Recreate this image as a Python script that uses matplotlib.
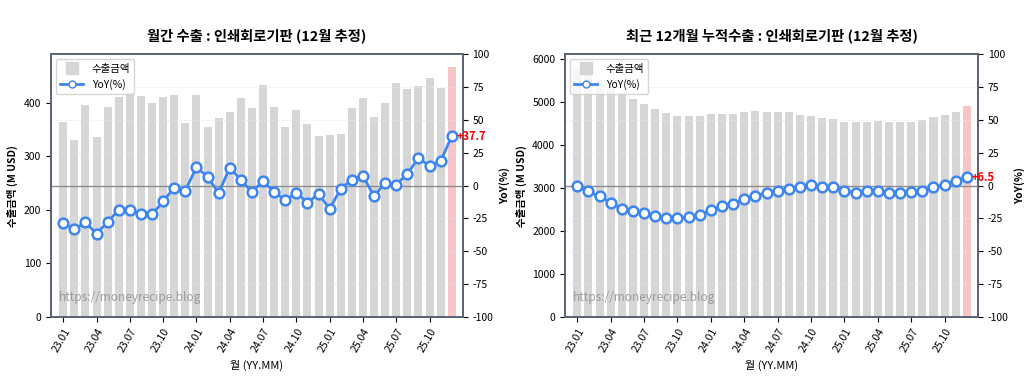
import numpy as np
import matplotlib
matplotlib.use('Agg')
import matplotlib.pyplot as plt
from matplotlib.lines import Line2D

plt.rcParams['font.family'] = ['Noto Sans CJK KR', 'DejaVu Sans']
plt.rcParams['axes.unicode_minus'] = False

# 월 라벨 (23.01 ~ 25.12)
months = [f'{y}.{m:02d}' for y in (23, 24, 25) for m in range(1, 13)]

# 월간 수출금액 (M USD) / YoY(%)
monthly_export = [363, 330, 396, 336, 392, 410, 419, 413, 399, 411, 414, 362,
                  414, 354, 372, 382, 409, 390, 432, 391, 354, 386, 360, 338,
                  339, 342, 390, 409, 373, 399, 437, 425, 430, 446, 427, 467]
monthly_yoy = [-28.5, -33.3, -28.0, -36.6, -27.8, -18.4, -18.9, -21.4, -22.0, -12.1, -1.5, -3.8,
               13.9, 6.8, -5.8, 13.6, 4.3, -4.8, 3.3, -4.8, -11.1, -5.3, -13.1, -6.3,
               -17.7, -2.5, 4.5, 7.6, -8.3, 2.3, 0.8, 8.9, 21.0, 14.9, 18.5, 37.7]

# 최근 12개월 누적수출 (M USD) / YoY(%)
rolling_export = [5820, 5680, 5510, 5350, 5200, 5065, 4963, 4847, 4747, 4678, 4678, 4662,
                  4717, 4731, 4717, 4770, 4786, 4755, 4770, 4755, 4701, 4678, 4624, 4601,
                  4531, 4531, 4539, 4554, 4523, 4539, 4539, 4570, 4647, 4693, 4770, 4903]
rolling_yoy = [0.0, -4.5, -8.3, -13.1, -17.7, -19.5, -20.8, -22.8, -24.4, -24.9, -23.7, -22.2,
               -18.9, -15.9, -14.3, -10.3, -7.6, -5.7, -4.5, -2.3, -0.8, 0.2, -1.0, -1.0,
               -4.0, -5.3, -4.0, -4.5, -5.7, -5.3, -5.0, -4.0, -1.0, 0.5, 3.3, 6.5]

titles = ['월간 수출 : 인쇄회로기판 (12월 추정)', '최근 12개월 누적수출 : 인쇄회로기판 (12월 추정)']

fig = plt.figure(figsize=(10.24, 3.84), dpi=100)
positions = [[0.0498, 0.1745, 0.4022, 0.6845], [0.5518, 0.1745, 0.4033, 0.6845]]

spine_color = '#5c6474'
line_color = '#3d85f0'
bar_color = '#d6d6d6'

for pos, values, yoy, title in zip(positions, [monthly_export, rolling_export],
                                   [monthly_yoy, rolling_yoy], titles):
    ax = fig.add_axes(pos)
    x = np.arange(len(values))
    colors = [bar_color] * (len(values) - 1) + ['#f6c6c6']
    ax.bar(x, values, width=0.72, color=colors, zorder=1)
    ax.set_ylim(0, max(values) * 1.05)
    ax.set_xlim(-1.1, len(values) + 0.0)
    ax.set_xticks(x[::3])
    ax.set_xticklabels(months[::3], rotation=60, ha='right', rotation_mode='anchor', fontsize=7.5)
    ax.tick_params(axis='y', labelsize=7.5)
    ax.set_ylabel('수출금액 (M USD)', fontsize=7.5, fontweight='bold')
    ax.set_xlabel('월 (YY.MM)', fontsize=8)
    ax.set_title(title, fontsize=10.3, fontweight='bold', pad=10)
    ax.text(0.02, 0.06, 'https://moneyrecipe.blog', transform=ax.transAxes,
            fontsize=8.5, color='#8a8a8a', alpha=0.8, zorder=5)

    ax2 = ax.twinx()
    ax2.set_ylim(-100, 100)
    ax2.set_yticks(np.arange(-100, 101, 25))
    ax2.tick_params(axis='y', labelsize=7.5)
    ax2.grid(axis='y', color='#e8e8e8', linestyle='--', linewidth=0.6, alpha=0.7)
    ax2.axhline(0, color='#8c8c8c', linewidth=1.0, zorder=2)
    ax2.plot(x, yoy, color=line_color, linewidth=2, marker='o', markersize=7,
             markerfacecolor='white', markeredgecolor=line_color, markeredgewidth=1.8, zorder=3)
    ax2.text(x[-1] + 0.4, yoy[-1], f'{yoy[-1]:+.1f}', color='red', fontsize=8,
             fontweight='bold', va='center', ha='left')
    ax2.set_ylabel('YoY(%)', fontsize=7.5, fontweight='bold')

    for a in (ax, ax2):
        for s in a.spines.values():
            s.set_color(spine_color)
            s.set_linewidth(1.3)

    handles = [Line2D([0], [0], color=bar_color, linestyle='', marker='s', markersize=8,
                      label='수출금액'),
               Line2D([0], [0], color=line_color, linewidth=2, marker='o', markersize=5,
                      markerfacecolor='white', markeredgecolor=line_color, label='YoY(%)')]
    leg = ax2.legend(handles=handles, loc='upper left', fontsize=7.5, framealpha=0.8,
                     handlelength=2.2)

fig.savefig('out.png', dpi=100)
